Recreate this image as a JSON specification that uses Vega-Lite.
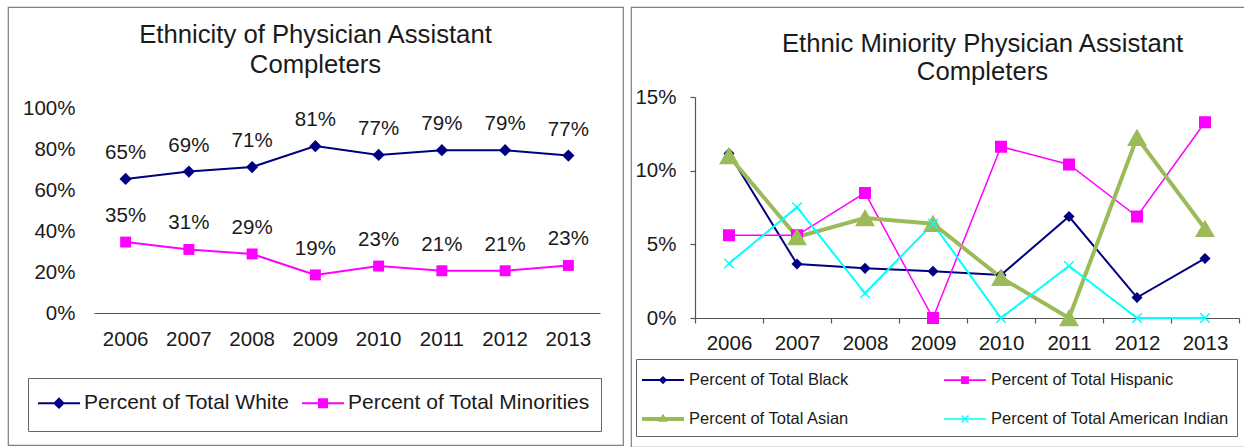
{
  "$schema": "https://vega.github.io/schema/vega-lite/v6.json",
  "background": "white",
  "padding": {"left": 7, "top": 6, "right": 0, "bottom": 0},
  "spacing": 6,
  "config": {
    "font": "Liberation Sans",
    "view": {"stroke": "#7f7f7f", "strokeWidth": 1.2},
    "axis": {"grid": false, "title": null, "labelFont": "Liberation Sans", "labelFontSize": 20.5, "labelColor": "#1a1a1a", "domainColor": "#555555", "tickColor": "#555555", "domainWidth": 1.2, "tickWidth": 1.2},
    "legend": {"labelFont": "Liberation Sans", "labelColor": "#1a1a1a", "strokeColor": "#666666", "labelLimit": 500},
    "title": {"font": "Liberation Sans", "fontSize": 25.7, "fontWeight": "normal", "color": "#1a1a1a", "frame": "group", "anchor": "middle"}
  },
  "datasets": {
    "ethnicity": [
      {"year": "2006", "series": "Percent of Total White", "value": 0.654},
      {"year": "2007", "series": "Percent of Total White", "value": 0.690},
      {"year": "2008", "series": "Percent of Total White", "value": 0.712},
      {"year": "2009", "series": "Percent of Total White", "value": 0.814},
      {"year": "2010", "series": "Percent of Total White", "value": 0.771},
      {"year": "2011", "series": "Percent of Total White", "value": 0.794},
      {"year": "2012", "series": "Percent of Total White", "value": 0.794},
      {"year": "2013", "series": "Percent of Total White", "value": 0.768},
      {"year": "2006", "series": "Percent of Total Minorities", "value": 0.346},
      {"year": "2007", "series": "Percent of Total Minorities", "value": 0.310},
      {"year": "2008", "series": "Percent of Total Minorities", "value": 0.288},
      {"year": "2009", "series": "Percent of Total Minorities", "value": 0.186},
      {"year": "2010", "series": "Percent of Total Minorities", "value": 0.229},
      {"year": "2011", "series": "Percent of Total Minorities", "value": 0.206},
      {"year": "2012", "series": "Percent of Total Minorities", "value": 0.206},
      {"year": "2013", "series": "Percent of Total Minorities", "value": 0.232}
    ],
    "minority": [
      {"year": "2006", "series": "Percent of Total Black", "value": 0.1116},
      {"year": "2007", "series": "Percent of Total Black", "value": 0.0366},
      {"year": "2008", "series": "Percent of Total Black", "value": 0.0337},
      {"year": "2009", "series": "Percent of Total Black", "value": 0.0317},
      {"year": "2010", "series": "Percent of Total Black", "value": 0.0292},
      {"year": "2011", "series": "Percent of Total Black", "value": 0.0689},
      {"year": "2012", "series": "Percent of Total Black", "value": 0.0139},
      {"year": "2013", "series": "Percent of Total Black", "value": 0.0404},
      {"year": "2006", "series": "Percent of Total Hispanic", "value": 0.0561},
      {"year": "2007", "series": "Percent of Total Hispanic", "value": 0.0561},
      {"year": "2008", "series": "Percent of Total Hispanic", "value": 0.0849},
      {"year": "2009", "series": "Percent of Total Hispanic", "value": 0.0},
      {"year": "2010", "series": "Percent of Total Hispanic", "value": 0.1163},
      {"year": "2011", "series": "Percent of Total Hispanic", "value": 0.1042},
      {"year": "2012", "series": "Percent of Total Hispanic", "value": 0.0689},
      {"year": "2013", "series": "Percent of Total Hispanic", "value": 0.1329},
      {"year": "2006", "series": "Percent of Total Asian", "value": 0.110},
      {"year": "2007", "series": "Percent of Total Asian", "value": 0.055},
      {"year": "2008", "series": "Percent of Total Asian", "value": 0.0678},
      {"year": "2009", "series": "Percent of Total Asian", "value": 0.064},
      {"year": "2010", "series": "Percent of Total Asian", "value": 0.0274},
      {"year": "2011", "series": "Percent of Total Asian", "value": 0.0},
      {"year": "2012", "series": "Percent of Total Asian", "value": 0.1224},
      {"year": "2013", "series": "Percent of Total Asian", "value": 0.0606},
      {"year": "2006", "series": "Percent of Total American Indian", "value": 0.0370},
      {"year": "2007", "series": "Percent of Total American Indian", "value": 0.0752},
      {"year": "2008", "series": "Percent of Total American Indian", "value": 0.0168},
      {"year": "2009", "series": "Percent of Total American Indian", "value": 0.0640},
      {"year": "2010", "series": "Percent of Total American Indian", "value": 0.0},
      {"year": "2011", "series": "Percent of Total American Indian", "value": 0.0353},
      {"year": "2012", "series": "Percent of Total American Indian", "value": 0.0},
      {"year": "2013", "series": "Percent of Total American Indian", "value": 0.0}
    ]
  },
  "resolve": {
    "scale": {"color": "independent", "stroke": "independent"},
    "legend": {"color": "independent"}
  },
  "hconcat": [
    {
      "width": 615,
      "height": 438,
      "title": {"text": ["Ethnicity of Physician Assistant", "Completers"], "offset": -72, "lineHeight": 30},
      "data": {"name": "ethnicity"},
      "encoding": {
        "x": {"field": "year", "type": "ordinal", "bandPosition": 0.5,
              "scale": {"type": "band", "range": [86, 592], "paddingInner": 0, "paddingOuter": 0},
              "axis": {"offset": -132, "ticks": false, "labelAngle": 0, "labelPadding": 16}},
        "y": {"field": "value", "type": "quantitative",
              "scale": {"domain": [0, 1], "range": [306, 101], "nice": false, "zero": false},
              "axis": {"offset": -86, "domain": false, "ticks": false, "values": [0, 0.2, 0.4, 0.6, 0.8, 1], "format": ".0%", "labelPadding": 19}},
        "color": {"field": "series", "type": "nominal",
          "scale": {"domain": ["Percent of Total White", "Percent of Total Minorities"], "range": ["#000080", "#ff00ff"]},
          "legend": {"title": null, "orient": "none", "legendX": 20, "legendY": 371, "direction": "horizontal", "columns": 2,
            "padding": 11, "columnPadding": 12, "labelFontSize": 21, "symbolSize": 784, "symbolStrokeWidth": 0, "labelOffset": 11, "symbolOffset": 6,
            "strokeColor": "#666666",
            "encoding": {"symbols": {
              "shape": {"value": {"expr": "datum.value === 'Percent of Total White' ? 'M-1.5,-0.072H1.5V0.072H-1.5ZM0,-0.42L0.42,0L0,0.42L-0.42,0ZM0,-1.18ZM0,1.18Z' : 'M-1.5,-0.072H1.5V0.072H-1.5ZM-0.36,-0.36H0.36V0.36H-0.36ZM0,-1.18ZM0,1.18Z'"}},
              "fill": {"value": {"expr": "datum.value === 'Percent of Total White' ? '#000080' : '#ff00ff'"}},
              "stroke": {"value": "transparent"},
              "strokeWidth": {"value": 0},
              "size": {"value": 784},
              "opacity": {"value": 1}
            }}
          }}
      },
      "layer": [
        {
          "mark": {"type": "line", "strokeWidth": 2}
        },
        {
          "mark": {"type": "point", "filled": true, "opacity": 1, "strokeWidth": 1},
          "encoding": {
            "shape": {"condition": {"test": "datum.series === 'Percent of Total Minorities'", "value": "square"}, "value": "diamond"},
            "size": {"condition": {"test": "datum.series === 'Percent of Total Minorities'", "value": 120}, "value": 150}
          }
        },
        {
          "mark": {"type": "text", "dy": -26, "fontSize": 20.5, "color": "#1a1a1a", "baseline": "middle"},
          "encoding": {"text": {"field": "value", "type": "quantitative", "format": ".0%"}, "color": {"value": "#1a1a1a"}}
        }
      ]
    },
    {
      "width": 616,
      "height": 440,
      "title": {"text": ["Ethnic Miniority Physician Assistant", "Completers"], "offset": -79, "lineHeight": 28, "dx": 43.5},
      "data": {"name": "minority"},
      "encoding": {
        "x": {"field": "year", "type": "ordinal", "bandPosition": 0.5,
              "scale": {"type": "band", "range": [64, 608], "paddingInner": 0, "paddingOuter": 0},
              "axis": {"offset": -129, "ticks": true, "tickSize": 5, "tickBand": "extent", "labelAngle": 0, "labelPadding": 10}},
        "y": {"field": "value", "type": "quantitative",
              "scale": {"domain": [0, 0.15], "range": [311, 90], "nice": false},
              "axis": {"offset": -64, "values": [0, 0.05, 0.1, 0.15], "format": ".0%", "tickSize": 5, "labelPadding": 14}},
        "color": {"field": "series", "type": "nominal",
          "scale": {"domain": ["Percent of Total Black", "Percent of Total Hispanic", "Percent of Total Asian", "Percent of Total American Indian"], "range": ["#000080", "#ff00ff", "#9bbb59", "#00ffff"]},
          "legend": {"title": null, "orient": "none", "legendX": 5, "legendY": 352, "direction": "horizontal", "columns": 2,
            "padding": 7, "columnPadding": 94, "rowPadding": 15, "labelFontSize": 16.5, "symbolSize": 784, "symbolStrokeWidth": 0, "labelOffset": 12, "symbolOffset": 6,
            "strokeColor": "#666666",
            "encoding": {"symbols": {
              "shape": {"value": {"expr": "datum.value === 'Percent of Total Black' ? 'M-1.5,-0.072H1.5V0.072H-1.5ZM0,-0.3L0.3,0L0,0.3L-0.3,0ZM0,-0.7ZM0,0.7Z' : datum.value === 'Percent of Total Hispanic' ? 'M-1.5,-0.06H1.5V0.06H-1.5ZM-0.28,-0.28H0.28V0.28H-0.28ZM0,-0.7ZM0,0.7Z' : datum.value === 'Percent of Total Asian' ? 'M-1.5,-0.143H1.5V0.143H-1.5ZM0,-0.4L0.34,0.2H-0.34ZM0,-0.7ZM0,0.7Z' : 'M-1.5,-0.06H1.5V0.06H-1.5ZM-0.215,-0.285L0.285,0.215L0.215,0.285L-0.285,-0.215ZM-0.285,0.215L0.215,-0.285L0.285,-0.215L-0.215,0.285ZM0,-0.7ZM0,0.7Z'"}},
              "fill": {"value": {"expr": "datum.value === 'Percent of Total Black' ? '#000080' : datum.value === 'Percent of Total Hispanic' ? '#ff00ff' : datum.value === 'Percent of Total Asian' ? '#9bbb59' : '#00ffff'"}},
              "stroke": {"value": "transparent"},
              "strokeWidth": {"value": 0},
              "size": {"value": 784},
              "opacity": {"value": 1}
            }}
          }}
      },
      "layer": [
        {
          "mark": {"type": "line"},
          "encoding": {
            "strokeWidth": {"condition": [
              {"test": "datum.series === 'Percent of Total Asian'", "value": 4},
              {"test": "datum.series === 'Percent of Total Hispanic'", "value": 1.5}
            ], "value": 2}
          }
        },
        {
          "mark": {"type": "point", "filled": true, "opacity": 1, "strokeWidth": 1.5},
          "encoding": {
            "shape": {"condition": [
              {"test": "datum.series === 'Percent of Total Hispanic'", "value": "square"},
              {"test": "datum.series === 'Percent of Total Asian'", "value": "triangle-up"},
              {"test": "datum.series === 'Percent of Total American Indian'", "value": "M-1,-1L1,1M-1,1L1,-1"}
            ], "value": "diamond"},
            "size": {"condition": [
              {"test": "datum.series === 'Percent of Total Hispanic'", "value": 110},
              {"test": "datum.series === 'Percent of Total Asian'", "value": 300},
              {"test": "datum.series === 'Percent of Total American Indian'", "value": 90}
            ], "value": 80},
            "stroke": {"field": "series", "type": "nominal",
              "scale": {"domain": ["Percent of Total Black", "Percent of Total Hispanic", "Percent of Total Asian", "Percent of Total American Indian"], "range": ["#000080", "#ff00ff", "#9bbb59", "#00ffff"]},
              "legend": null}
          }
        }
      ]
    }
  ]
}
